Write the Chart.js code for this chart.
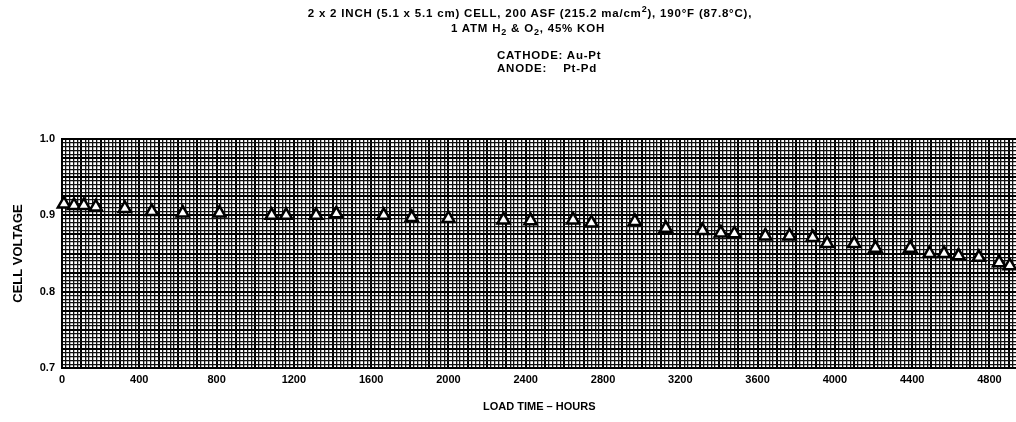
<!DOCTYPE html>
<html>
<head>
<meta charset="utf-8">
<script src="https://cdn.jsdelivr.net/npm/chart.js@4/dist/chart.umd.min.js"></script>
<style>
  body { margin: 0; background: #fff; overflow: hidden; }
  #wrap { position: relative; width: 1026px; height: 422px; }
  .hdr { position: absolute; font-family: 'Liberation Sans', Arial, sans-serif; font-weight: bold; font-size: 11.5px; letter-spacing: 0.8px; color: #000; white-space: pre; line-height: 13px; }
  .hdr sub, .hdr sup { font-size: 9px; line-height: 0; }
</style>
</head>
<body>
<div id="wrap">
  <div class="hdr" style="left:0;width:1060px;top:7px;text-align:center;">2 x 2 INCH (5.1 x 5.1 cm) CELL, 200 ASF (215.2 ma/cm<sup>2</sup>), 190°F (87.8°C),</div>
  <div class="hdr" style="left:0;width:1056px;top:22px;text-align:center;">1 ATM H<sub>2</sub> &amp; O<sub>2</sub>, 45% KOH</div>
  <div class="hdr" style="left:497px;top:49px;">CATHODE: Au-Pt</div>
  <div class="hdr" style="left:497px;top:62px;">ANODE:    Pt-Pd</div>
  <canvas id="grafico"></canvas>
</div>
<script>
// horas de operação e tensão da célula
const horas = [10, 62, 113, 175, 325, 465, 625, 815, 1085, 1160, 1315, 1420, 1665, 1810, 2000, 2285, 2425, 2645, 2740, 2965,
  3125, 3315, 3410, 3480, 3640, 3765, 3885, 3960, 4100, 4210, 4390, 4490, 4565, 4640, 4745, 4850, 4905];
const tensao = [0.915, 0.913, 0.913, 0.911, 0.909, 0.905, 0.903, 0.903, 0.900, 0.900, 0.900, 0.902, 0.900, 0.897, 0.896, 0.894, 0.893, 0.894, 0.890, 0.892,
  0.883, 0.880, 0.877, 0.876, 0.873, 0.873, 0.871, 0.863, 0.863, 0.857, 0.857, 0.850, 0.850, 0.847, 0.845, 0.838, 0.834];
const ticksX = [0, 400, 800, 1200, 1600, 2000, 2400, 2800, 3200, 3600, 4000, 4400, 4800];
const ticksY = [0.7, 0.8, 0.9, 1.0];

const fonte = { family: "'Liberation Sans', Arial, sans-serif", weight: 'bold', size: 11 };

// papel milimetrado: linha forte a cada 5 linhas finas
const corGrade = ctx => (ctx.index % 5 === 0 ? '#000' : '#111');
const larguraGrade = ctx => (ctx.index % 5 === 0 ? 2 : 1.3);

new Chart(document.getElementById('grafico'), {
  type: 'scatter',
  data: {
    datasets: [{
      data: horas.map((h, i) => ({ x: h, y: tensao[i] })),
      pointStyle: 'triangle',
      pointRadius: 7,
      pointHoverRadius: 7,
      borderColor: '#000',
      backgroundColor: '#fff',
      borderWidth: 2.5,
      clip: false
    }]
  },
  options: {
    responsive: true,
    maintainAspectRatio: false,
    animation: false,
    layout: { padding: { top: 139, left: 0, right: 0, bottom: 0 } },
    plugins: { legend: { display: false }, tooltip: { enabled: false } },
    scales: {
      x: {
        type: 'linear',
        min: 0,
        max: 4940,
        afterFit: s => { s.height = 54; },
        grid: { color: corGrade, lineWidth: larguraGrade, drawTicks: false },
        border: { display: true, color: '#000', width: 2 },
        ticks: {
          stepSize: 20,
          autoSkip: false,
          maxRotation: 0,
          padding: 5,
          color: '#000',
          font: fonte,
          callback: v => (ticksX.includes(v) ? String(v) : '')
        },
        title: { display: true, text: 'LOAD TIME – HOURS', color: '#000', font: fonte, padding: { top: 0, bottom: 8 } }
      },
      y: {
        min: 0.7,
        max: 1.0,
        afterFit: s => { s.width = 62; },
        grid: { color: corGrade, lineWidth: larguraGrade, drawTicks: false },
        border: { display: true, color: '#000', width: 2 },
        ticks: {
          stepSize: 0.005,
          autoSkip: false,
          padding: 7,
          color: '#000',
          font: fonte,
          callback: v => (ticksY.some(t => Math.abs(t - v) < 1e-6) ? v.toFixed(1) : '')
        },
        title: { display: true, text: 'CELL VOLTAGE', color: '#000', font: { ...fonte, size: 13 }, padding: { top: 11, bottom: 0 } }
      }
    }
  }
});
</script>
</body>
</html>
